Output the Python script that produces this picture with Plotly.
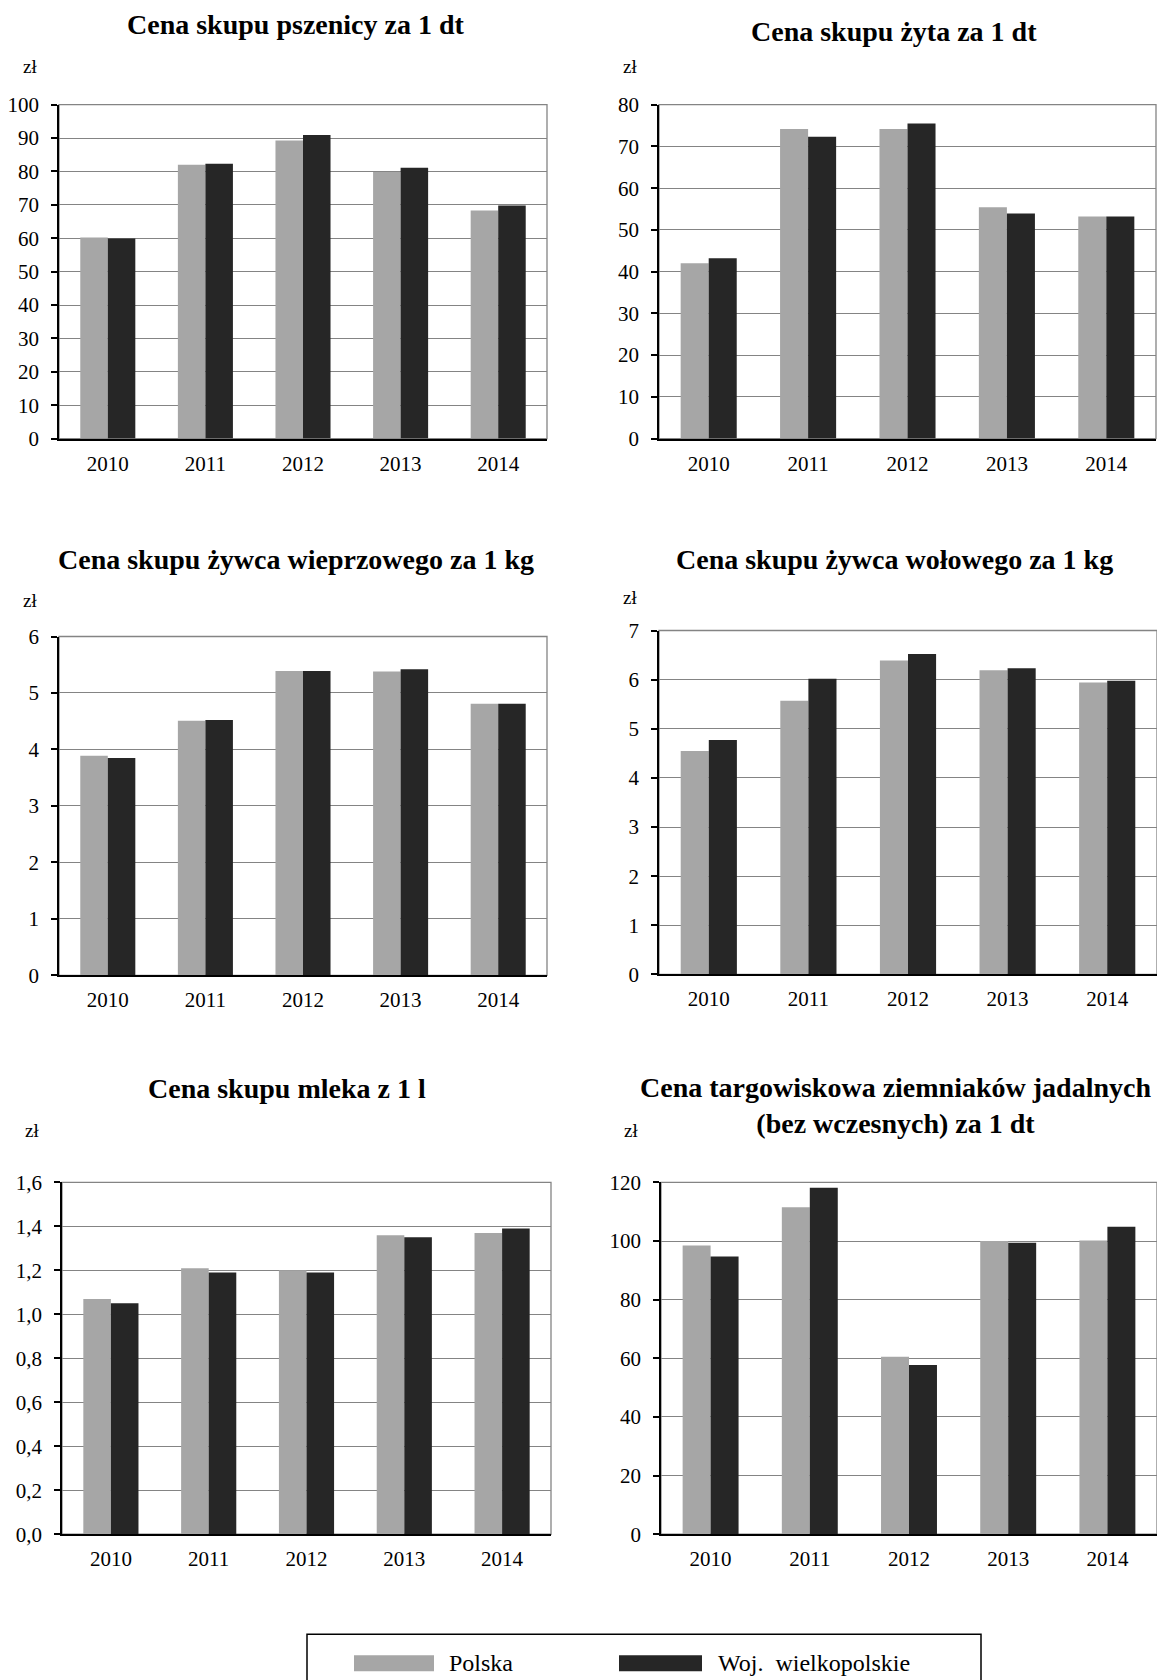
import plotly.graph_objects as go

W, H = 1157, 1680

years = ["2010", "2011", "2012", "2013", "2014"]
series_names = ["Polska", "Woj.\u00a0 wielkopolskie"]
series_colors = ["#a6a6a6", "#262626"]

# ceny w zł
pszenica_pl = [60.2, 82.0, 89.3, 79.8, 68.3]
pszenica_wlkp = [59.9, 82.3, 90.9, 81.1, 69.8]
zyto_pl = [42.0, 74.2, 74.2, 55.4, 53.2]
zyto_wlkp = [43.2, 72.3, 75.5, 53.9, 53.2]
wieprz_pl = [3.89, 4.51, 5.39, 5.38, 4.81]
wieprz_wlkp = [3.85, 4.52, 5.39, 5.42, 4.81]
wol_pl = [4.55, 5.57, 6.39, 6.19, 5.94]
wol_wlkp = [4.77, 6.02, 6.52, 6.23, 5.98]
mleko_pl = [1.07, 1.21, 1.20, 1.36, 1.37]
mleko_wlkp = [1.05, 1.19, 1.19, 1.35, 1.39]
ziemniaki_pl = [98.5, 111.5, 60.5, 100.0, 100.2]
ziemniaki_wlkp = [94.7, 118.2, 57.7, 99.4, 104.9]

titles = [
    "Cena skupu pszenicy za 1 dt",
    "Cena skupu żyta za 1 dt",
    "Cena skupu żywca wieprzowego za 1 kg",
    "Cena skupu żywca wołowego za 1 kg",
    "Cena skupu mleka z 1 l",
    "Cena targowiskowa ziemniaków jadalnych<br>(bez wczesnych) za 1 dt",
]
y_max = [100, 80, 6, 7, 1.6, 120]
y_step = [10, 10, 1, 1, 0.2, 20]
y_format = ["d", "d", "d", "d", ".1f", "d"]
values = [
    (pszenica_pl, pszenica_wlkp),
    (zyto_pl, zyto_wlkp),
    (wieprz_pl, wieprz_wlkp),
    (wol_pl, wol_wlkp),
    (mleko_pl, mleko_wlkp),
    (ziemniaki_pl, ziemniaki_wlkp),
]

# pixel geometry: plot box (left, right, top, bottom), title centre, "zł" position
boxes = [
    (59, 547, 104, 438, 296, 24, 30, 66),
    (659, 1156, 104, 438, 894, 31, 630, 66),
    (59, 547, 636, 975, 296, 559, 30, 600),
    (659, 1157, 630, 974, 894, 559, 630, 597),
    (62, 551, 1182, 1534, 287, 1088, 32, 1130),
    (661, 1157, 1182, 1534, 895, 1105, 631, 1130),
]

FONT = "Liberation Serif"
GRID = "#848484"


def px(v):
    return v / W


def py(v):
    # page pixel -> paper y (measured offset/scale of the rendered page)
    return 1 - (v - 11.3) / (0.986 * H)


fig = go.Figure()

for i, (vals, box) in enumerate(zip(values, boxes)):
    n = "" if i == 0 else str(i + 1)
    left, right, top, bottom, tx, ty, zx, zy = box
    for name, v, col in zip(series_names, vals, series_colors):
        fig.add_trace(go.Bar(
            x=years, y=v, name=name,
            marker=dict(color=col, line=dict(width=0)),
            xaxis="x" + n, yaxis="y" + n, showlegend=False,
        ))
    fig.layout["xaxis" + n] = dict(
        domain=[px(left), min(px(right), 1)],
        anchor="y" + n,
        showline=True, linecolor="black", linewidth=1.6,
        ticks="", showgrid=False,
        tickfont=dict(family=FONT, size=21, color="black"),
        ticklabelstandoff=5,
    )
    fig.layout["yaxis" + n] = dict(
        domain=[py(bottom), py(top)],
        anchor="x" + n,
        range=[0, y_max[i]],
        tick0=0, dtick=y_step[i], tickformat=y_format[i],
        showline=True, linecolor="black", linewidth=1.6,
        ticks="outside", ticklen=6, tickwidth=1.5, tickcolor="black",
        showgrid=True, gridcolor=GRID, gridwidth=1.3,
        zeroline=False,
        tickfont=dict(family=FONT, size=21, color="black"),
        ticklabelstandoff=8,
    )
    # grey frame of the plot area
    fig.add_shape(type="rect", xref="x" + n + " domain", yref="y" + n + " domain",
                  x0=0, x1=1, y0=0, y1=1, line=dict(color=GRID, width=1.3), layer="below")
    fig.add_annotation(text="<b>" + titles[i].replace("<br>", "</b><br><b>") + "</b>",
                       xref="paper", yref="paper", x=px(tx), y=py(ty),
                       xanchor="center", yanchor="middle", showarrow=False,
                       font=dict(family=FONT, size=28, color="black"))
    fig.add_annotation(text="zł", xref="paper", yref="paper", x=px(zx), y=py(zy),
                       xanchor="center", yanchor="middle", showarrow=False,
                       font=dict(family=FONT, size=19, color="black"))

# legend box drawn at the bottom
fig.add_shape(type="rect", xref="paper", yref="paper",
              x0=px(307), x1=px(981), y0=py(1695), y1=py(1634),
              line=dict(color="black", width=1.5), fillcolor="white")
legend_pos = [(354, 434, 447), (619, 702, 716)]
for name, col, (s0, s1, tx) in zip(series_names, series_colors, legend_pos):
    fig.add_shape(type="rect", xref="paper", yref="paper",
                  x0=px(s0), x1=px(s1), y0=py(1671), y1=py(1655),
                  line=dict(width=0), fillcolor=col)
    fig.add_annotation(text=name, xref="paper", yref="paper", x=px(tx), y=py(1663),
                       xanchor="left", yanchor="middle", showarrow=False,
                       font=dict(family=FONT, size=24, color="black"))

fig.update_layout(
    width=W, height=H,
    margin=dict(l=0, r=0, t=0, b=0),
    paper_bgcolor="white", plot_bgcolor="white",
    barmode="group", bargap=0.436, bargroupgap=0,
    separators=", ",
    font=dict(family=FONT, color="black"),
)

# page body margin would push the figure off its 1157x1680 frame
fig.write_html("out.html", config={"displayModeBar": False},
               post_script="document.body.style.margin = '0';")
